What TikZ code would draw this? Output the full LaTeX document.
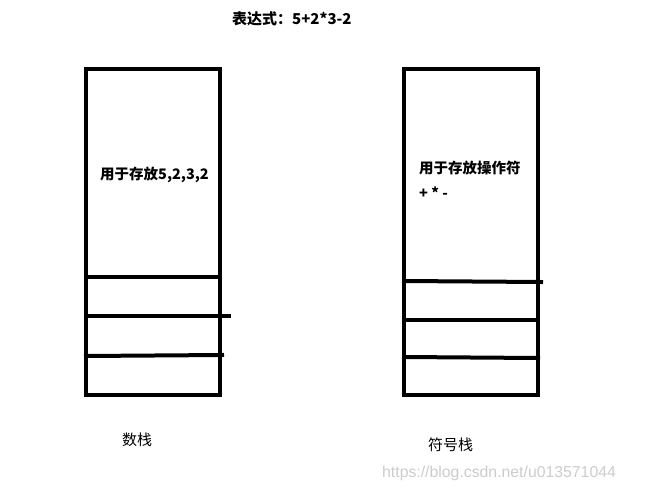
\documentclass[tikz,border=0pt]{standalone}
\usepackage{fontspec}
\newfontfamily\cjk{Noto Sans CJK SC}
\newfontfamily\wmfont{Liberation Sans}
\begin{document}
\begin{tikzpicture}[x=1pt,y=-1pt,
  stackline/.style={line width=4pt,line cap=rect},
  boldtxt/.style={font=\cjk\bfseries\fontsize{14.5}{16}\selectfont,inner sep=0pt,anchor=west},
  titletxt/.style={font=\cjk\bfseries\fontsize{15}{17}\selectfont,inner sep=0pt,anchor=west},
  plaintxt/.style={font=\cjk\fontsize{15}{17}\selectfont,inner sep=0pt,anchor=west},
  wmark/.style={font=\wmfont\fontsize{15.8}{18}\selectfont,text=black!20,inner sep=0pt,anchor=west}]
\useasboundingbox (0,0) rectangle (652,500);
% title
\node[titletxt] (title) at (232,19) {表达式：5+2*3-2};
% left stack
\coordinate (la) at (86,69);
\coordinate (lb) at (220,395);
\draw[stackline] (la) rectangle (lb);
\coordinate (l1a) at (86,277); \coordinate (l1b) at (220,277);
\coordinate (l2a) at (86,316); \coordinate (l2b) at (229,316);
\coordinate (l3a) at (86,356); \coordinate (l3b) at (222,355);
\draw[stackline] (l1a) -- (l1b);
\draw[stackline] (l2a) -- (l2b);
\draw[stackline] (l3a) -- (l3b);
\node[boldtxt] (ltext) at (100,175) {用于存放5,2,3,2};
\node[plaintxt] (lname) at (122,440) {数栈};
% right stack
\coordinate (ra) at (404,69);
\coordinate (rb) at (538,395);
\draw[stackline] (ra) rectangle (rb);
\coordinate (r1a) at (404,281); \coordinate (r1b) at (541,282);
\coordinate (r2a) at (404,320); \coordinate (r2b) at (538,320);
\coordinate (r3a) at (404,357); \coordinate (r3b) at (538,358);
\draw[stackline] (r1a) -- (r1b);
\draw[stackline] (r2a) -- (r2b);
\draw[stackline] (r3a) -- (r3b);
\node[boldtxt] (rtext) at (419,168) {用于存放操作符};
\node[boldtxt] (rops) at (419,193) {+ * -};
\node[plaintxt] (rname) at (428,445) {符号栈};
% watermark
\node[wmark] (wm) at (382,473) {https://blog.csdn.net/u013571044};
\end{tikzpicture}
\end{document}
